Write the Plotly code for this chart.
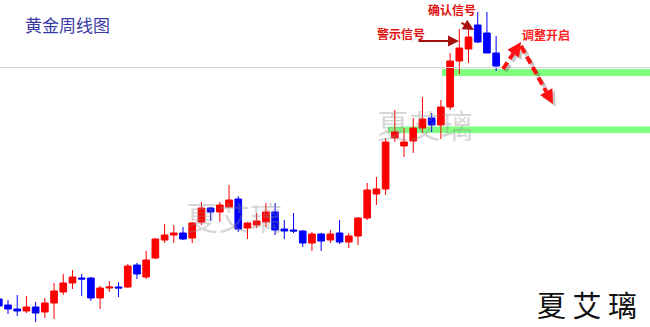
import plotly.graph_objects as go

# Weekly gold candles (price units)
weeks = list(range(55))
opens = [1083, 1077, 1073, 1071, 1075, 1070, 1079, 1090, 1099, 1104,
         1104, 1084, 1094, 1095, 1095, 1117, 1105, 1124, 1142, 1147,
         1149, 1144, 1160, 1174, 1170, 1175, 1183, 1154, 1157, 1160,
         1170, 1153, 1152, 1151, 1139, 1148, 1142, 1149, 1140, 1146,
         1164, 1188, 1193, 1244, 1236, 1241, 1254, 1264, 1257, 1275,
         1321, 1333, 1357, 1349, 1329]
highs = [1086, 1082, 1087, 1086, 1080, 1084, 1099, 1108, 1112, 1108,
         1105, 1096, 1101, 1100, 1118, 1119, 1131, 1144, 1158, 1157,
         1155, 1160, 1180, 1175, 1180, 1197, 1186, 1160, 1169, 1179,
         1179, 1162, 1169, 1152, 1150, 1149, 1152, 1162, 1149, 1165,
         1199, 1205, 1244, 1272, 1254, 1264, 1285, 1269, 1282, 1329,
         1353, 1354, 1370, 1370, 1346]
lows = [1074, 1068, 1066, 1069, 1060, 1064, 1063, 1087, 1093, 1086,
        1081, 1073, 1090, 1085, 1094, 1103, 1103, 1123, 1139, 1139,
        1142, 1139, 1157, 1161, 1160, 1175, 1150, 1143, 1154, 1155,
        1147, 1143, 1149, 1135, 1131, 1131, 1139, 1138, 1134, 1137,
        1162, 1177, 1187, 1240, 1225, 1229, 1249, 1250, 1243, 1272,
        1308, 1319, 1339, 1329, 1311]
closes = [1076, 1073, 1071, 1075, 1069, 1079, 1091, 1099, 1105, 1103,
          1084, 1094, 1095, 1094, 1116, 1108, 1122, 1143, 1147, 1149,
          1143, 1159, 1174, 1170, 1177, 1182, 1153, 1159, 1161, 1170,
          1152, 1151, 1151, 1139, 1148, 1141, 1148, 1140, 1146, 1164,
          1192, 1193, 1240, 1250, 1240, 1254, 1263, 1257, 1275, 1321,
          1334, 1345, 1340, 1329, 1316]

title_text = "黄金周线图"
warn_text = "警示信号"
confirm_text = "确认信号"
adjust_text = "调整开启"
watermark = "夏艾璃"
signature = "夏 艾 璃"

W, H = 650, 327
def px(x):
    return x / W
def py(y):
    return 1 - y / H

fig = go.Figure()
fig.add_trace(go.Candlestick(
    x=weeks, open=opens, high=highs, low=lows, close=closes,
    increasing=dict(line=dict(color="#ff0000", width=1), fillcolor="#ff0000"),
    decreasing=dict(line=dict(color="#0000ff", width=1), fillcolor="#0000ff"),
    whiskerwidth=0, hoverinfo="skip", showlegend=False,
))

shapes = []
shapes.append(dict(type="line", xref="paper", yref="paper", x0=0, x1=1,
                   y0=py(67.5), y1=py(67.5), line=dict(color="#d4d4d4", width=1.2)))
shapes.append(dict(type="rect", xref="paper", yref="paper", x0=px(442), x1=1,
                   y0=py(76), y1=py(69), fillcolor="#80ff80", line=dict(width=0), layer="below"))
shapes.append(dict(type="rect", xref="paper", yref="paper", x0=px(388), x1=1,
                   y0=py(133), y1=py(126.5), fillcolor="#80ff80", line=dict(width=0), layer="below"))

def dashed_arrow(tail, tip, color, shadow=False, head_len=14, head_half=7):
    import math
    dx, dy = tip[0] - tail[0], tip[1] - tail[1]
    L = math.hypot(dx, dy)
    ux, uy = dx / L, dy / L
    nx, ny = -uy, ux
    bx, by = tip[0] - head_len * ux, tip[1] - head_len * uy
    c1 = (bx + head_half * nx, by + head_half * ny)
    c2 = (bx - head_half * nx, by - head_half * ny)
    off = 2.5 if shadow else 0
    out = []
    out.append(dict(type="line", xref="paper", yref="paper",
                    x0=px(tail[0] + off), y0=py(tail[1] + off),
                    x1=px(bx + off), y1=py(by + off),
                    line=dict(color=color, width=4, dash="8px,4px")))
    path = "M {},{} L {},{} L {},{} Z".format(
        px(tip[0] + off), py(tip[1] + off), px(c1[0] + off), py(c1[1] + off),
        px(c2[0] + off), py(c2[1] + off))
    out.append(dict(type="path", xref="paper", yref="paper", path=path,
                    fillcolor=color, line=dict(color=color, width=0)))
    return out

for sh in (True, False):
    col = "rgba(0,0,0,0.22)" if sh else "#ff1010"
    shapes += dashed_arrow((503, 69), (521, 42), col, shadow=sh)
    shapes += dashed_arrow((521, 46), (553, 104), col, shadow=sh)

def label(text, x, y, size, color):
    return dict(text=text, x=px(x), y=py(y), xref="paper", yref="paper",
                xanchor="center", yanchor="middle", showarrow=False,
                font=dict(family="Noto Sans CJK SC", size=size, color=color))

annotations = [
    label(title_text, 67, 24, 17, "#3a3aa6"),
    label(watermark, 234, 216, 32, "rgba(140,140,140,0.35)"),
    label(watermark, 425, 124, 32, "rgba(140,140,140,0.35)"),
    label(signature, 587, 304, 29, "#111111"),
    label("<b>" + warn_text + "</b>", 401, 34, 12, "#e01010"),
    label("<b>" + confirm_text + "</b>", 452, 10, 12, "#e01010"),
    label("<b>" + adjust_text + "</b>", 546, 35, 12, "#ff2020"),
    dict(text="", x=px(459), y=py(41), xref="paper", yref="paper", showarrow=True,
         ax=-42, ay=0, arrowhead=2, arrowsize=1.1, arrowwidth=2, arrowcolor="#a81010"),
    dict(text="", x=px(474), y=py(30), xref="paper", yref="paper", showarrow=True,
         ax=-14, ay=-8, arrowhead=2, arrowsize=1.1, arrowwidth=2, arrowcolor="#a81010"),
]

step = 9.21
r0 = 1.2 / step
fig.update_layout(
    width=W, height=H,
    margin=dict(l=0, r=0, t=0, b=0),
    paper_bgcolor="white", plot_bgcolor="white",
    xaxis=dict(visible=False, range=[r0, r0 + W / step], rangeslider=dict(visible=False)),
    yaxis=dict(visible=False, range=[1382 - H, 1382]),
    boxgap=0.15, boxgroupgap=0.15,
    shapes=shapes, annotations=annotations,
    showlegend=False, hovermode=False,
)

fig.write_html("out.html")
